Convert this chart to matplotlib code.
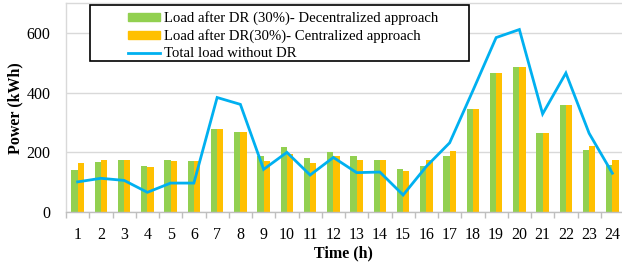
import matplotlib
matplotlib.use("Agg")
import matplotlib.pyplot as plt
from matplotlib.patches import Rectangle
from matplotlib.lines import Line2D
import numpy as np

plt.rcParams['font.family'] = ['Liberation Serif', 'DejaVu Serif']

hours = [str(h) for h in range(1, 25)]
decentralized = [141, 167, 175, 153, 173, 171, 277, 269, 187, 218, 182, 201,
                 187, 176, 144, 154, 189, 344, 465, 486, 266, 359, 207, 159]
centralized = [166, 176, 175, 150, 171, 172, 277, 269, 170, 194, 164, 188,
               173, 176, 136, 173, 204, 344, 465, 486, 266, 359, 222, 176]
total_no_dr = [101, 113, 106, 66, 97, 97, 384, 361, 143, 200, 124, 183,
               132, 134, 57, 153, 232, 407, 585, 612, 329, 466, 264, 130]
yticks = [0, 200, 400, 600]

labels = ["Load after DR (30%)- Decentralized approach",
          "Load after DR(30%)- Centralized approach",
          "Total load without DR"]
c_green = '#92D050'
c_orange = '#FFC000'
c_blue = '#00B0F0'

W, H = 622, 263
fig = plt.figure(figsize=(W / 100, H / 100), dpi=100)
ax = fig.add_axes([66 / W, 51 / H, (624 - 66) / W, (259.7 - 51) / H])

x = np.arange(len(hours))
bw = 0.27
ax.bar(x - bw / 2, decentralized, width=bw, color=c_green, zorder=2)
ax.bar(x + bw / 2, centralized, width=bw, color=c_orange, zorder=2)
ax.plot(x, total_no_dr, color=c_blue, lw=2.0, zorder=3, solid_joinstyle='miter')

ax.set_xlim(-0.5, len(hours) - 0.5)
ax.set_ylim(0, 700)
ax.set_yticks(yticks)
ax.set_yticklabels([str(v) for v in yticks], fontsize=11.5)
ax.tick_params(axis='y', length=0, pad=11)

ax.set_xticks(np.arange(-0.5, len(hours), 1.0))
ax.set_xticklabels([])
ax.tick_params(axis='x', which='major', length=4, color='#BFBFBF', width=1)
ax.set_xticks(x, minor=True)
ax.set_xticklabels(hours, minor=True, fontsize=11.5)
ax.tick_params(axis='x', which='minor', length=0, pad=11)

ax.grid(axis='y', color='#D9D9D9', lw=1, zorder=0)
ax.set_axisbelow(True)
for s in ['top', 'left', 'right']:
    ax.spines[s].set_color('#D9D9D9')
    ax.spines[s].set_linewidth(1)
ax.spines['bottom'].set_color('#BFBFBF')
ax.spines['bottom'].set_linewidth(1)

fig.text(15 / W, 1 - 108 / H, "Power (kWh)", rotation=90, ha='center', va='center',
         fontsize=11.5, fontweight='bold')
fig.text(343 / W, 1 - 253 / H, "Time (h)", ha='center', va='center',
         fontsize=11.5, fontweight='bold')

# legend
handles = [Rectangle((0, 0), 1, 1, color=c_green),
           Rectangle((0, 0), 1, 1, color=c_orange),
           Line2D([], [], color=c_blue, lw=2)]
fig.add_artist(Rectangle((90 / W, 1 - 61 / H), (469 - 90) / W, (61 - 5) / H,
                         transform=fig.transFigure, fill=True, facecolor='white',
                         edgecolor='black', lw=1.2, zorder=4))
leg = fig.legend(handles, labels, loc='upper left',
                 bbox_to_anchor=(117 / W, 1 - 0 / H), frameon=False,
                 fontsize=10.6, handlelength=2.2, handleheight=0.45,
                 handletextpad=0.25, labelspacing=0.28, borderpad=0.25)
leg.set_zorder(5)

fig.savefig("out.png", dpi=100)
